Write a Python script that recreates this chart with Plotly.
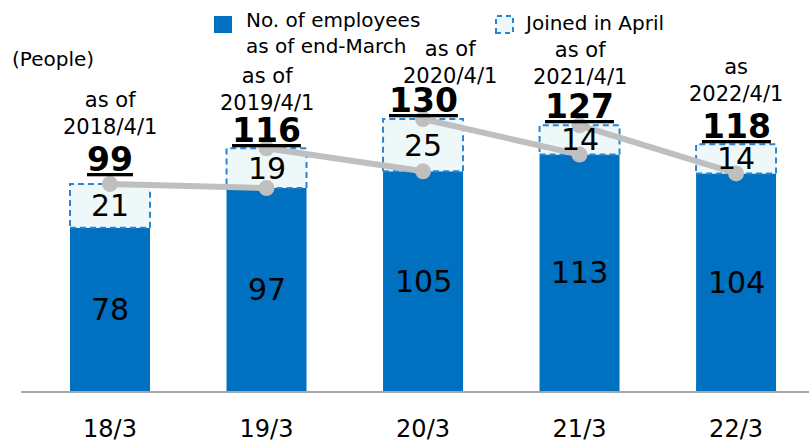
import plotly.graph_objects as go

# ---- data ----
categories = ["18/3", "19/3", "20/3", "21/3", "22/3"]
employees = [78, 97, 105, 113, 104]          # No. of employees as of end-March
joined = [21, 19, 25, 14, 14]                # Joined in April
totals = [99, 116, 130, 127, 118]            # as of April 1
date_labels = ["as of<br>2018/4/1", "as of<br>2019/4/1", "as of<br>2020/4/1",
               "as of<br>2021/4/1", "as<br>2022/4/1"]

# ---- style / layout constants ----
W, H = 809, 441
ML, MR, MT, MB = 21, 0, 0, 50
BLUE = "#0070C0"
LIGHT = "#EFF8F8"
DASH_BLUE = "#2A84D2"
GREY = "#BFBFBF"
FONT = "DejaVu Sans"
BW = 0.511
XR = [-0.5687, 4.466]
YR = [0, 186.9]
date_dy = [70, 59, 57, 62, 64]
date_dx = [0, 0, 27, 0, 0]
total_dy = [24, 18, 19, 19, 18]

pw = W - ML - MR
ph = H - MT - MB


def px(x):
    return (x - ML) / pw


def py(y):
    return (H - MB - y) / ph


xs = list(range(len(categories)))

fig = go.Figure()

fig.add_trace(go.Bar(x=xs, y=employees, width=BW, marker=dict(color=BLUE, line=dict(width=0)),
                     hoverinfo="skip", showlegend=False))

# dashed "joined in April" boxes
rx, ry = [], []
for i in xs:
    e, t = employees[i], totals[i]
    rx += [i - BW / 2, i + BW / 2, i + BW / 2, i - BW / 2, i - BW / 2, None]
    ry += [e, e, t, t, e, None]
fig.add_trace(go.Scatter(x=rx, y=ry, mode="lines", fill="toself", fillcolor=LIGHT,
                         line=dict(color=DASH_BLUE, width=2, dash="6px,4px"),
                         hoverinfo="skip", showlegend=False))

# grey connecting line: April total -> next end-March
lx, ly = [], []
for i in xs[:-1]:
    lx += [i, i + 1, None]
    ly += [totals[i], employees[i + 1], None]
fig.add_trace(go.Scatter(x=lx, y=ly, mode="lines+markers",
                         line=dict(color=GREY, width=6),
                         marker=dict(color=GREY, size=16),
                         hoverinfo="skip", showlegend=False))

ann = []
for i in xs:
    ann.append(dict(x=i, y=employees[i] / 2, text=str(employees[i]), showarrow=False,
                    yanchor="middle", font=dict(family=FONT, size=30, color="#000")))
    ann.append(dict(x=i, y=employees[i] + joined[i] / 2, text=str(joined[i]), showarrow=False,
                    yanchor="middle", font=dict(family=FONT, size=30, color="#000")))
    ann.append(dict(x=i, y=totals[i], text="<b><u>%d</u></b>" % totals[i], showarrow=False,
                    yanchor="middle", yshift=total_dy[i],
                    font=dict(family=FONT, size=33, color="#000")))
    ann.append(dict(x=i, y=totals[i], text=date_labels[i], showarrow=False,
                    yanchor="middle", yshift=date_dy[i], xshift=date_dx[i],
                    font=dict(family=FONT, size=21, color="#000")))

# legend & unit
ann.append(dict(xref="paper", yref="paper", x=px(244), y=py(33), xanchor="left", yanchor="middle",
                align="left", showarrow=False, text="No. of employees<br>as of end-March",
                font=dict(family=FONT, size=20, color="#000")))
ann.append(dict(xref="paper", yref="paper", x=px(522), y=py(23), xanchor="left", yanchor="middle",
                showarrow=False, text="Joined in April",
                font=dict(family=FONT, size=20, color="#000")))
ann.append(dict(xref="paper", yref="paper", x=px(10), y=py(59), xanchor="left", yanchor="middle",
                showarrow=False, text="(People)",
                font=dict(family=FONT, size=20, color="#000")))

shapes = [
    dict(type="rect", xref="paper", yref="paper", x0=px(214), x1=px(232), y0=py(33), y1=py(16),
         fillcolor=BLUE, line=dict(width=0)),
    dict(type="rect", xref="paper", yref="paper", x0=px(496), x1=px(513), y0=py(33), y1=py(16),
         fillcolor=LIGHT, line=dict(color=DASH_BLUE, width=2, dash="5px,4px")),
]

fig.update_layout(
    width=W, height=H,
    margin=dict(l=ML, r=MR, t=MT, b=MB),
    paper_bgcolor="white", plot_bgcolor="white",
    annotations=ann, shapes=shapes, showlegend=False,
    xaxis=dict(range=XR, tickmode="array", tickvals=xs, ticktext=categories,
               showgrid=False, zeroline=False, showline=True, linecolor="#A6A6A6", linewidth=2,
               ticks="", ticklabelstandoff=15, automargin=False,
               tickfont=dict(family=FONT, size=24, color="#000")),
    yaxis=dict(range=YR, visible=False, showgrid=False, zeroline=False, automargin=False),
)

fig.write_html("out.html", config={"displayModeBar": False},
               post_script="document.body.style.margin='0';document.body.style.overflow='hidden';")
